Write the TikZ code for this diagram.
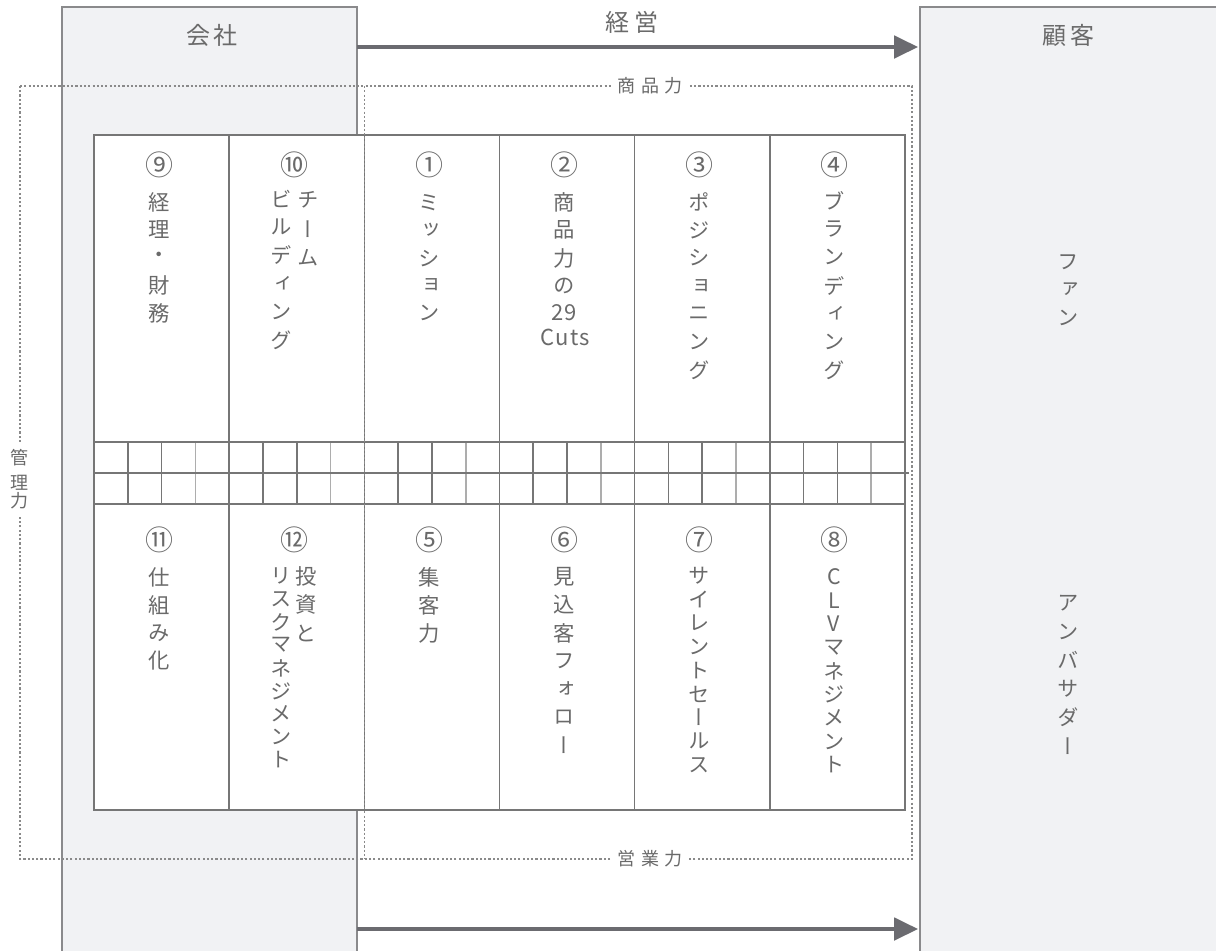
\documentclass[tikz,border=0pt]{standalone}
\usepackage{fontspec}
\setmainfont{Noto Sans CJK JP}
\newfontfamily\jpv{Noto Sans CJK JP}[RawFeature=+vert]
\usetikzlibrary{arrows.meta}
\definecolor{boxfill}{HTML}{F1F2F4}
\definecolor{boxline}{HTML}{8A8A8C}
\definecolor{gridcol}{HTML}{767676}
\definecolor{gridlight}{HTML}{ADADAD}
\definecolor{txt}{HTML}{6A6A6A}
\definecolor{arrcol}{HTML}{6B6B70}
\definecolor{dotcol}{HTML}{8A8A8A}
\tikzset{
  panel/.style={fill=boxfill,draw=boxline,line width=1.1pt},
  gridline/.style={draw=gridcol,line width=1.2pt},
  gridthin/.style={draw=gridlight,line width=1.2pt},
  dotline/.style={draw=dotcol,line width=1pt,dash pattern=on 1.6pt off 1.6pt},
  arr/.style={draw=arrcol,line width=2.3pt,-{Triangle[length=18pt,width=17pt]}},
  vch/.style={text=txt,font=\jpv\fontsize{16}{16}\selectfont,inner sep=0pt,anchor=center},
  num/.style={text=txt,font=\fontsize{21}{21}\selectfont,inner sep=0pt,anchor=center},
  head/.style={text=txt,font=\fontsize{18}{18}\selectfont,inner sep=0pt},
  lab/.style={text=txt,font=\fontsize{13.5}{13.5}\selectfont,fill=white,inner xsep=4pt,inner ysep=2pt},
  lat/.style={text=txt,font=\fontsize{16.5}{16.5}\selectfont\addfontfeature{LetterSpace=6},inner sep=0pt},
}
\newcommand\vcol[5]{%
  \foreach \ch [count=\i from 0] in {#5} {
    \node[vch] (#1-\i) at (#2,{#3+\i*#4}) {\ch};
  }}
\begin{document}
\begin{tikzpicture}[x=0.75pt,y=-0.75pt]
\useasboundingbox (0,0) rectangle (1216,950);
% panels
\path[panel] (62,1000) -- (62,7) -- (357,7) -- (357,1000);
\path[panel] (920,1000) -- (920,7) -- (1240,7) -- (1240,1000);
\coordinate (cA) at (357,47); \coordinate (kA) at (918,47);
\coordinate (cB) at (357,929); \coordinate (kB) at (918,929);
\draw[arr] (cA) -- (kA);
\draw[arr] (cB) -- (kB);
\node[head] (keiei) at (632,22) {経\hspace{4pt}営};
\node[head] (kaisha) at (212,35) {会\hspace{3pt}社};
\node[head] (kokyaku) at (1068,35) {顧\hspace{3pt}客};
% grid table
\fill[white] (94,135) rectangle (905,810);
\foreach \c in {94,229.17,364.33,499.5,634.67,769.83} {
  \draw[gridline] ({\c+33.79},442) -- ({\c+33.79},504);
  \draw[gridline] ({\c+67.58},442) -- ({\c+67.58},504);
  \draw[gridthin] ({\c+101.37},442) -- ({\c+101.37},504);
}
\foreach \x in {229.17,364.33,499.5,634.67,769.83}
  \draw[gridline] (\x,135) -- (\x,810);
\draw[gridline] (94,442) -- (905,442);
\draw[gridline] (94,473) -- (909,473);
\draw[gridline] (94,504) -- (905,504);
\draw[gridline] (94,135) rectangle (905,810);
% dotted frames
\draw[dotline] (20,86) -- (912,86) -- (912,859) -- (20,859) -- cycle;
\draw[dotline] (364.5,86) -- (364.5,859);
\node[lab] (shohin) at (650,86) {商\hspace{4pt}品\hspace{4pt}力};
\node[lab] (eigyo) at (650,859) {営\hspace{4pt}業\hspace{4pt}力};
\node[lab,inner xsep=2pt,inner ysep=5pt,text width=14pt,align=center] (kanri) at (19,479)
  {\baselineskip=25\dimexpr0.75pt\relax 管\\理\\力};
% top row
\node[num] (n9) at (159,165) {⑨};
\vcol{a9}{159}{202}{27.8}{経,理,・,財,務}
\node[num] (n10) at (294,165) {⑩};
\vcol{a10r}{308}{200}{29}{チ,ー,ム}
\vcol{a10l}{281}{199}{28.2}{ビ,ル,デ,ィ,ン,グ}
\node[num] (n1) at (429,165) {①};
\vcol{a1}{429}{203}{27.6}{ミ,ッ,シ,ョ,ン}
\node[num] (n2) at (564,165) {②};
\vcol{a2}{564}{202}{28}{商,品,力,の}
\node[lat] (n2a) at (564,313) {29};
\node[lat] (n2b) at (565,337) {Cuts};
\node[num] (n3) at (699,165) {③};
\vcol{a3}{699}{202}{28}{ポ,ジ,シ,ョ,ニ,ン,グ}
\node[num] (n4) at (834,165) {④};
\vcol{a4}{834}{201}{28.2}{ブ,ラ,ン,デ,ィ,ン,グ}
% bottom row
\node[num] (n11) at (159,540) {⑪};
\vcol{a11}{159}{577}{28}{仕,組,み,化}
\node[num] (n12) at (294,540) {⑫};
\vcol{a12r}{306}{576}{28.5}{投,資,と}
\vcol{a12l}{281}{576}{23}{リ,ス,ク,マ,ネ,ジ,メ,ン,ト}
\node[num] (n5) at (429,540) {⑤};
\vcol{a5}{429}{577}{28}{集,客,力}
\node[num] (n6) at (564,540) {⑥};
\vcol{a6}{564}{577}{28}{見,込,客,フ,ォ,ロ,ー}
\node[num] (n7) at (699,540) {⑦};
\vcol{a7}{699}{576}{23.6}{サ,イ,レ,ン,ト,セ,ー,ル,ス}
\node[num] (n8) at (834,540) {⑧};
\vcol{a8}{834}{577}{23.5}{C,L,V,マ,ネ,ジ,メ,ン,ト}
% customer side
\vcol{fan}{1068}{262}{28}{フ,ァ,ン}
\vcol{amb}{1068}{603}{28.6}{ア,ン,バ,サ,ダ,ー}
\end{tikzpicture}
\end{document}
